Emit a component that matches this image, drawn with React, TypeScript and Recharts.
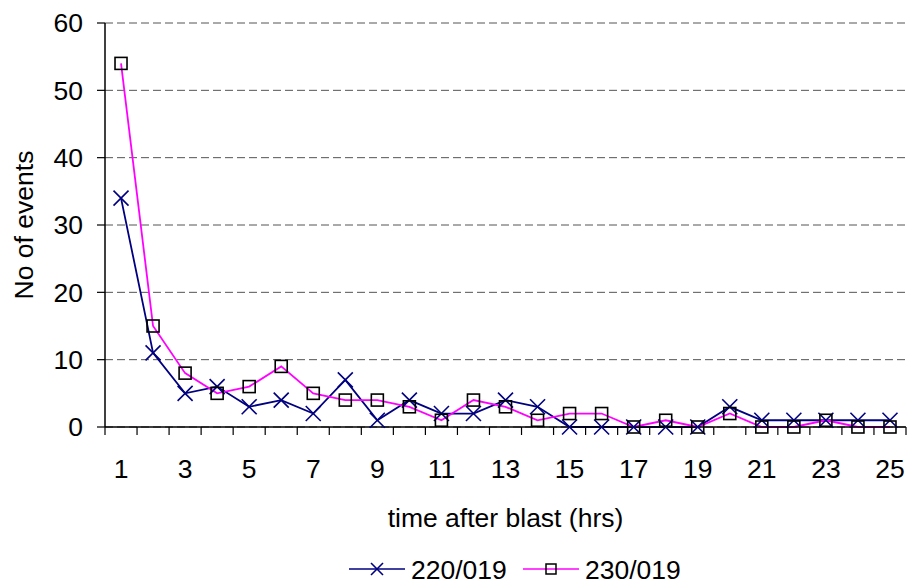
import React from 'react';
import { LineChart, Line, XAxis, YAxis, CartesianGrid, Legend } from 'recharts';

const hours = [1, 2, 3, 4, 5, 6, 7, 8, 9, 10, 11, 12, 13, 14, 15, 16, 17, 18, 19, 20, 21, 22, 23, 24, 25];
const series220 = [34, 11, 5, 6, 3, 4, 2, 7, 1, 4, 2, 2, 4, 3, 0, 0, 0, 0, 0, 3, 1, 1, 1, 1, 1];
const series230 = [54, 15, 8, 5, 6, 9, 5, 4, 4, 3, 1, 4, 3, 1, 2, 2, 0, 1, 0, 2, 0, 0, 1, 0, 0];
const yTicks = [0, 10, 20, 30, 40, 50, 60];
const xLabelHours = hours.filter((h) => h % 2 === 1);
const seriesNames = ['220/019', '230/019'];
const xTitle = 'time after blast (hrs)';
const yTitle = 'No of events';

const NAVY = '#000080';
const MAGENTA = '#FF00FF';
const FONT = '"Liberation Sans", Arial, sans-serif';
const FS = 26.5;

const data = hours.map((h, i) => ({ hour: h, s220: series220[i], s230: series230[i] }));
const boundaryTicks = hours.map((h) => h - 0.5).concat([hours[hours.length - 1] + 0.5]);
const allXTicks = [...boundaryTicks, ...xLabelHours].sort((a, b) => a - b);

const XTick = (props: any) => {
  const { x, y, payload } = props;
  const v = payload.value;
  if (!Number.isInteger(v)) {
    return <line x1={x} x2={x} y1={y} y2={y + 8} stroke="#000" strokeWidth={1.2} />;
  }
  return (
    <text x={x} y={y + 51} textAnchor="middle" fontSize={FS} fill="#000" fontFamily={FONT}>
      {v}
    </text>
  );
};

const XDot = (props: any) => {
  const { cx, cy } = props;
  if (cx == null || cy == null) return null;
  const s = 7.5;
  return (
    <g>
      <line x1={cx - s} y1={cy - s} x2={cx + s} y2={cy + s} stroke={NAVY} strokeWidth={1.6} />
      <line x1={cx - s} y1={cy + s} x2={cx + s} y2={cy - s} stroke={NAVY} strokeWidth={1.6} />
    </g>
  );
};

const SquareDot = (props: any) => {
  const { cx, cy } = props;
  if (cx == null || cy == null) return null;
  const s = 6;
  return <rect x={cx - s} y={cy - s} width={2 * s} height={2 * s} fill="none" stroke="#000" strokeWidth={1.6} />;
};

const YTitle = (props: any) => {
  const vb = props.viewBox || {};
  const cy = (vb.y ?? 23) + (vb.height ?? 404) / 2;
  const x = 33;
  return (
    <text x={x} y={cy} transform={`rotate(-90 ${x} ${cy})`} textAnchor="middle" fontSize={FS} fill="#000" fontFamily={FONT}>
      {yTitle}
    </text>
  );
};

const XTitle = (props: any) => {
  const vb = props.viewBox || {};
  const cx = (vb.x ?? 105) + (vb.width ?? 801) / 2;
  const y = (vb.y ?? 427) + 100;
  return (
    <text x={cx} y={y} textAnchor="middle" fontSize={FS} fill="#000" fontFamily={FONT}>
      {xTitle}
    </text>
  );
};

const LegendContent = () => (
  <div style={{ position: 'relative', width: 907, height: 30 }}>
    <svg width={907} height={30} style={{ display: 'block' }}>
      <line x1={349} x2={405} y1={15} y2={15} stroke={NAVY} strokeWidth={1.6} />
      <line x1={371} y1={9} x2={383} y2={21} stroke={NAVY} strokeWidth={1.6} />
      <line x1={371} y1={21} x2={383} y2={9} stroke={NAVY} strokeWidth={1.6} />
      <text x={411} y={25} fontSize={FS} fill="#000" fontFamily={FONT}>{seriesNames[0]}</text>
      <line x1={523} x2={579} y1={15} y2={15} stroke={MAGENTA} strokeWidth={1.6} />
      <rect x={546} y={10} width={10} height={10} fill="none" stroke="#000" strokeWidth={1.5} />
      <text x={585} y={25} fontSize={FS} fill="#000" fontFamily={FONT}>{seriesNames[1]}</text>
    </svg>
  </div>
);

export default function App() {
  return (
    <div style={{ position: 'absolute', left: 0, top: 0, width: 907, height: 584, background: '#fff', fontFamily: FONT }}>
      <LineChart width={907} height={584} data={data} margin={{ top: 23, right: 1, left: 0, bottom: 0 }}>
        <CartesianGrid vertical={false} stroke="#555" strokeDasharray="8 4" strokeWidth={1} />
        <XAxis
          dataKey="hour"
          type="number"
          domain={[0.5, 25.5]}
          ticks={allXTicks}
          interval={0}
          tickLine={false}
          tickSize={0}
          tickMargin={0}
          axisLine={{ stroke: '#000', strokeWidth: 1.5 }}
          tick={<XTick />}
          height={127}
          label={<XTitle />}
        />
        <YAxis
          type="number"
          domain={[0, 60]}
          ticks={yTicks}
          interval={0}
          width={105}
          tickSize={8}
          tickMargin={14}
          tickLine={{ stroke: '#000', strokeWidth: 1.2 }}
          axisLine={{ stroke: '#000', strokeWidth: 1.5 }}
          tick={{ fontSize: FS, fill: '#000', fontFamily: FONT }}
          label={<YTitle />}
        />
        <Legend
          verticalAlign="bottom"
          content={<LegendContent />}
          wrapperStyle={{ left: 0, bottom: 0, width: 907, height: 30 }}
        />
        <Line
          dataKey="s220"
          name={seriesNames[0]}
          stroke={NAVY}
          strokeWidth={1.8}
          dot={<XDot />}
          activeDot={false}
          isAnimationActive={false}
        />
        <Line
          dataKey="s230"
          name={seriesNames[1]}
          stroke={MAGENTA}
          strokeWidth={1.8}
          dot={<SquareDot />}
          activeDot={false}
          isAnimationActive={false}
        />
      </LineChart>
    </div>
  );
}
